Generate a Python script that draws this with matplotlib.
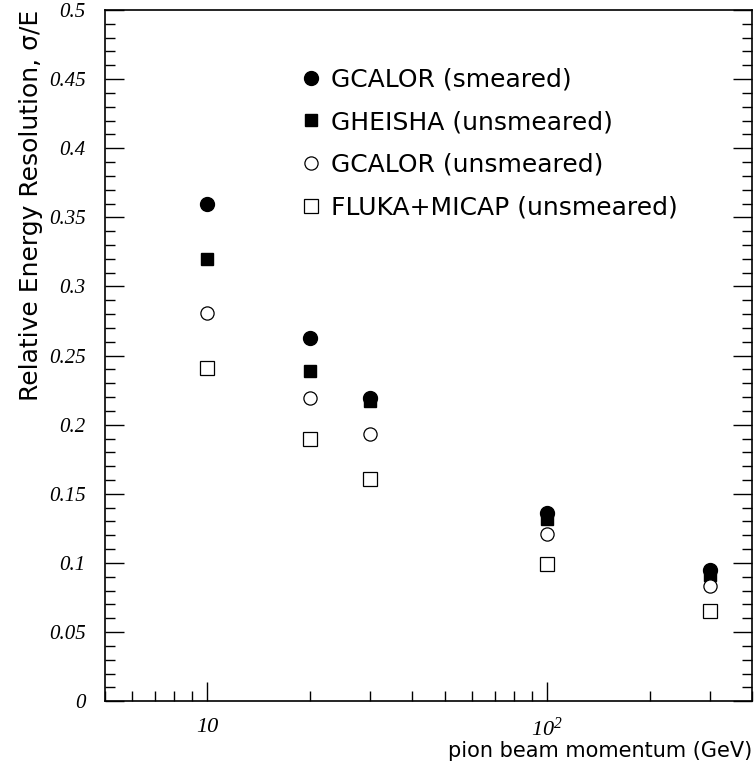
import numpy as np
import matplotlib.pyplot as plt
from matplotlib.ticker import MultipleLocator, FixedLocator, NullFormatter

# pion beam momentum (GeV)
momentum = [10, 20, 30, 100, 300]

# relative energy resolution sigma/E
gcalor_smeared = [0.360, 0.263, 0.219, 0.136, 0.095]
gheisha_unsmeared = [0.320, 0.239, 0.217, 0.132, 0.091]
gcalor_unsmeared = [0.281, 0.219, 0.193, 0.121, 0.083]
fluka_unsmeared = [0.241, 0.190, 0.161, 0.099, 0.065]

labels = ['GCALOR (smeared)', 'GHEISHA (unsmeared)',
          'GCALOR (unsmeared)', 'FLUKA+MICAP (unsmeared)']

fig = plt.figure(figsize=(7.55, 7.68), dpi=100)
ax = fig.add_axes([0.139, 0.087, 0.857, 0.900])

ax.plot(momentum, gcalor_smeared, 'o', color='black', ms=10, label=labels[0])
ax.plot(momentum, gheisha_unsmeared, 's', color='black', ms=9, label=labels[1])
ax.plot(momentum, gcalor_unsmeared, 'o', mfc='white', mec='black', mew=0.9, ms=9.5, label=labels[2])
ax.plot(momentum, fluka_unsmeared, 's', mfc='white', mec='black', mew=0.9, ms=9.5, label=labels[3])

ax.set_xscale('log')
ax.set_xlim(5, 400)
ax.set_ylim(0, 0.5)

# ticks like a ROOT plot: inward, on left/right and bottom
ax.yaxis.set_major_locator(MultipleLocator(0.05))
ax.yaxis.set_minor_locator(MultipleLocator(0.01))
ax.xaxis.set_major_locator(FixedLocator([10, 100]))
minors = [m * d for d in (1, 10, 100) for m in range(2, 10)]
ax.xaxis.set_minor_locator(FixedLocator(minors))
ax.xaxis.set_minor_formatter(NullFormatter())
ax.set_xticklabels(['10', r'$\mathregular{10^{2}}$'])
ax.set_yticks(np.arange(0, 0.501, 0.05))
ax.set_yticklabels(['0', '0.05', '0.1', '0.15', '0.2', '0.25', '0.3',
                    '0.35', '0.4', '0.45', '0.5'])

ax.tick_params(which='both', direction='in', left=True, right=True,
               bottom=True, top=False, width=1.0)
ax.tick_params(which='major', length=14)
ax.tick_params(which='minor', length=7)
ax.tick_params(axis='y', pad=14)
ax.tick_params(axis='x', pad=12)

for lab in ax.get_yticklabels():
    lab.set_family('Liberation Serif')
    lab.set_style('italic')
    lab.set_fontsize(15)
for lab in ax.get_xticklabels():
    lab.set_family('Liberation Serif')
    lab.set_style('italic')
    lab.set_fontsize(16)

for sp in ax.spines.values():
    sp.set_linewidth(1.2)

ax.set_xlabel('pion beam momentum (GeV)', loc='right', fontsize=15,
              family='DejaVu Sans', labelpad=0)
ax.set_ylabel('Relative Energy Resolution, σ/E', loc='top', fontsize=18,
              family='DejaVu Sans', labelpad=4)

ax.legend(loc='upper left', bbox_to_anchor=(0.2755, 0.935), frameon=False,
          fontsize=18, handletextpad=0.2, labelspacing=0.75,
          handlelength=1.2, borderpad=0, numpoints=1)

plt.savefig('out.png', dpi=100)
